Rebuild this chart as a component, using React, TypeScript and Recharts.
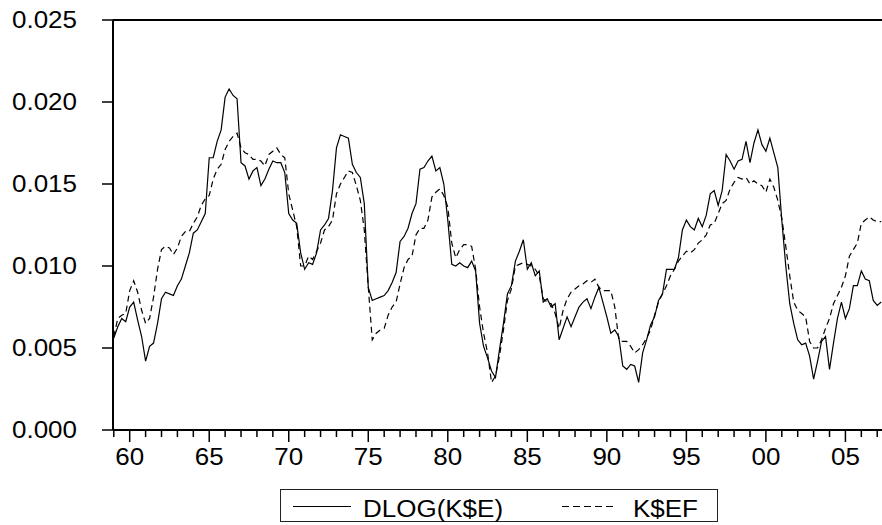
import { LineChart, Line, XAxis, YAxis, ReferenceLine, Legend } from 'recharts'

// quarterly series, 1959Q1 .. 2007Q2
const START_YEAR = 1959

const dlogKE = [
  0.0056, 0.0063, 0.0068, 0.0066, 0.0075, 0.0078, 0.0067, 0.0057, 0.0042, 0.0051,
  0.0053, 0.0065, 0.0080, 0.0084, 0.0083, 0.0082, 0.0088, 0.0092, 0.0100, 0.0108,
  0.0120, 0.0122, 0.0127, 0.0132, 0.0166, 0.0166, 0.0176, 0.0183, 0.0203, 0.0208,
  0.0204, 0.0202, 0.0163, 0.0161, 0.0153, 0.0158, 0.0160, 0.0149, 0.0153, 0.0159,
  0.0164, 0.0163, 0.0163, 0.0157, 0.0132, 0.0128, 0.0126, 0.0108, 0.0098, 0.0102,
  0.0101, 0.0108, 0.0122, 0.0125, 0.0129, 0.0146, 0.0172, 0.0180, 0.0179, 0.0178,
  0.0162, 0.0157, 0.0154, 0.0138, 0.0087, 0.0079, 0.0080, 0.0081, 0.0082, 0.0085,
  0.0090, 0.0096, 0.0115, 0.0118, 0.0123, 0.0132, 0.0138, 0.0159, 0.0160, 0.0164,
  0.0167, 0.0158, 0.0160, 0.0150, 0.0128, 0.0101, 0.0100, 0.0102, 0.0100, 0.0099,
  0.0103, 0.0097, 0.0065, 0.0051, 0.0044, 0.0036, 0.0032, 0.0049, 0.0065, 0.0083,
  0.0088, 0.0103, 0.0109, 0.0116, 0.0098, 0.0102, 0.0094, 0.0097, 0.0078, 0.0080,
  0.0075, 0.0077, 0.0055, 0.0062, 0.0069, 0.0063, 0.0069, 0.0075, 0.0078, 0.0080,
  0.0074, 0.0081, 0.0087, 0.0078, 0.0069, 0.0059, 0.0061, 0.0057, 0.0039, 0.0037,
  0.0040, 0.0039, 0.0029, 0.0047, 0.0055, 0.0064, 0.0069, 0.0079, 0.0083, 0.0098,
  0.0098, 0.0098, 0.0105, 0.0122, 0.0128, 0.0124, 0.0122, 0.0129, 0.0124, 0.0131,
  0.0144, 0.0146, 0.0137, 0.0146, 0.0168, 0.0164, 0.0159, 0.0164, 0.0165, 0.0176,
  0.0163, 0.0175, 0.0183, 0.0174, 0.0170, 0.0178, 0.0169, 0.0160, 0.0128, 0.0100,
  0.0077, 0.0065, 0.0055, 0.0052, 0.0053, 0.0045, 0.0031, 0.0042, 0.0054, 0.0057,
  0.0037, 0.0053, 0.0068, 0.0078, 0.0068, 0.0074, 0.0088, 0.0088, 0.0097, 0.0092,
  0.0091, 0.0079, 0.0076, 0.0078,
]

const kEF = [
  0.0057, 0.0068, 0.0070, 0.0071, 0.0085, 0.0091, 0.0084, 0.0073, 0.0065, 0.0068,
  0.0081, 0.0098, 0.0110, 0.0112, 0.0111, 0.0107, 0.0111, 0.0118, 0.0121, 0.0121,
  0.0126, 0.0130, 0.0137, 0.0141, 0.0143, 0.0153, 0.0159, 0.0162, 0.0171, 0.0176,
  0.0179, 0.0181, 0.0172, 0.0169, 0.0168, 0.0165, 0.0165, 0.0164, 0.0161, 0.0168,
  0.0170, 0.0172, 0.0168, 0.0166, 0.0144, 0.0134, 0.0124, 0.0100, 0.0100, 0.0106,
  0.0104, 0.0109, 0.0114, 0.0122, 0.0124, 0.0128, 0.0144, 0.0150, 0.0154, 0.0158,
  0.0157, 0.0149, 0.0140, 0.0122, 0.0087, 0.0055, 0.0059, 0.0061, 0.0062, 0.0070,
  0.0075, 0.0078, 0.0089, 0.0099, 0.0104, 0.0106, 0.0119, 0.0123, 0.0123, 0.0128,
  0.0142, 0.0145, 0.0147, 0.0143, 0.0136, 0.0114, 0.0105, 0.0110, 0.0113, 0.0113,
  0.0112, 0.0098, 0.0075, 0.0059, 0.0047, 0.0029, 0.0033, 0.0045, 0.0061, 0.0079,
  0.0086, 0.0100, 0.0101, 0.0102, 0.0101, 0.0100, 0.0098, 0.0094, 0.0080, 0.0078,
  0.0077, 0.0071, 0.0062, 0.0073, 0.0080, 0.0084, 0.0086, 0.0088, 0.0089, 0.0091,
  0.0090, 0.0092, 0.0087, 0.0085, 0.0085, 0.0085, 0.0075, 0.0055, 0.0054, 0.0054,
  0.0051, 0.0047, 0.0049, 0.0052, 0.0056, 0.0061, 0.0070, 0.0078, 0.0083, 0.0088,
  0.0094, 0.0098, 0.0103, 0.0106, 0.0109, 0.0108, 0.0110, 0.0114, 0.0116, 0.0119,
  0.0125, 0.0126, 0.0132, 0.0138, 0.0140, 0.0147, 0.0151, 0.0154, 0.0153, 0.0154,
  0.0150, 0.0152, 0.0150, 0.0149, 0.0145, 0.0153, 0.0148, 0.0140, 0.0129, 0.0112,
  0.0094, 0.0078, 0.0073, 0.0071, 0.0069, 0.0054, 0.0050, 0.0050, 0.0055, 0.0062,
  0.0068, 0.0077, 0.0082, 0.0087, 0.0094, 0.0106, 0.0110, 0.0114, 0.0126, 0.0128,
  0.0130, 0.0128, 0.0127, 0.0127,
]

const yTicks = [0, 0.005, 0.01, 0.015, 0.02, 0.025]

const yearTicks = [
  1959, 1960, 1961, 1962, 1963, 1964, 1965, 1966, 1967, 1968, 1969, 1970, 1971,
  1972, 1973, 1974, 1975, 1976, 1977, 1978, 1979, 1980, 1981, 1982, 1983, 1984,
  1985, 1986, 1987, 1988, 1989, 1990, 1991, 1992, 1993, 1994, 1995, 1996, 1997,
  1998, 1999, 2000, 2001, 2002, 2003, 2004, 2005, 2006, 2007,
]

const labelledYears = [1960, 1965, 1970, 1975, 1980, 1985, 1990, 1995, 2000, 2005]

const seriesNames = ['DLOG(K$E)', 'K$EF']

const data = dlogKE.map((v, i) => ({
  t: START_YEAR + i / 4,
  actual: v,
  fitted: kEF[i],
}))

const FONT = '"Liberation Sans", Arial, Helvetica, sans-serif'
const STRETCH = 'scale(1.13,1)'

const XTick = ({ x, y, payload }: any) => {
  const year = payload.value
  const major = labelledYears.includes(year)
  return (
    <g>
      <line x1={x} x2={x} y1={y} y2={y + (major ? 12 : 7)} stroke="#000" strokeWidth={1.5} />
      {major && (
        <text
          transform={`translate(${x},${y + 35}) ${STRETCH}`}
          textAnchor="middle"
          fontFamily={FONT}
          fontSize={23}
          fill="#000"
        >
          {String(year % 100).padStart(2, '0')}
        </text>
      )}
    </g>
  )
}

const YTick = ({ x, y, payload }: any) => (
  <g>
    <line x1={x - 11} x2={x} y1={y} y2={y} stroke="#000" strokeWidth={1.5} />
    <text
      transform={`translate(${x - 36},${y + 8}) ${STRETCH}`}
      textAnchor="end"
      fontFamily={FONT}
      fontSize={23}
      fill="#000"
    >
      {payload.value.toFixed(3)}
    </text>
  </g>
)

const BoxLegend = () => (
  <svg width={438} height={33} style={{ display: 'block' }}>
    <rect x={0.5} y={0.5} width={437} height={32} fill="#fff" stroke="#222" strokeWidth={1} />
    <line x1={13} x2={71} y1={17.5} y2={17.5} stroke="#000" strokeWidth={1.2} />
    <text transform={`translate(83,27.5) ${STRETCH}`} fontFamily={FONT} fontSize={23} fill="#000">
      {seriesNames[0]}
    </text>
    <line x1={282} x2={333} y1={17.5} y2={17.5} stroke="#000" strokeWidth={1.2} strokeDasharray="7 4" />
    <text transform={`translate(353,27.5) ${STRETCH}`} fontFamily={FONT} fontSize={23} fill="#000">
      {seriesNames[1]}
    </text>
  </svg>
)

export default function App() {
  return (
    <div style={{ position: 'absolute', left: 0, top: 0, background: '#fff' }}>
      <LineChart
        width={882}
        height={525}
        data={data}
        margin={{ top: 20, right: 0, bottom: 0, left: 0 }}
      >
        <XAxis
          dataKey="t"
          type="number"
          domain={[1958.95, 2007.3]}
          allowDataOverflow
          ticks={yearTicks}
          interval={0}
          height={95}
          tickSize={0}
          tickMargin={0}
          tickLine={false}
          axisLine={{ stroke: '#000', strokeWidth: 2 }}
          tick={<XTick />}
        />
        <YAxis
          type="number"
          domain={[0, 0.025]}
          ticks={yTicks}
          interval={0}
          width={113}
          tickSize={0}
          tickMargin={0}
          tickLine={false}
          axisLine={{ stroke: '#000', strokeWidth: 2 }}
          tick={<YTick />}
        />
        <ReferenceLine y={0.025} stroke="#000" strokeWidth={2} />
        <Line
          dataKey="actual"
          name={seriesNames[0]}
          type="linear"
          stroke="#000"
          strokeWidth={1.2}
          dot={false}
          activeDot={false}
          isAnimationActive={false}
        />
        <Line
          dataKey="fitted"
          name={seriesNames[1]}
          type="linear"
          stroke="#000"
          strokeWidth={1.2}
          strokeDasharray="6 4"
          dot={false}
          activeDot={false}
          isAnimationActive={false}
        />
        <Legend
          layout="horizontal"
          verticalAlign="middle"
          wrapperStyle={{ left: 280, top: 489, width: 438, height: 33 }}
          content={<BoxLegend />}
        />
      </LineChart>
    </div>
  )
}
